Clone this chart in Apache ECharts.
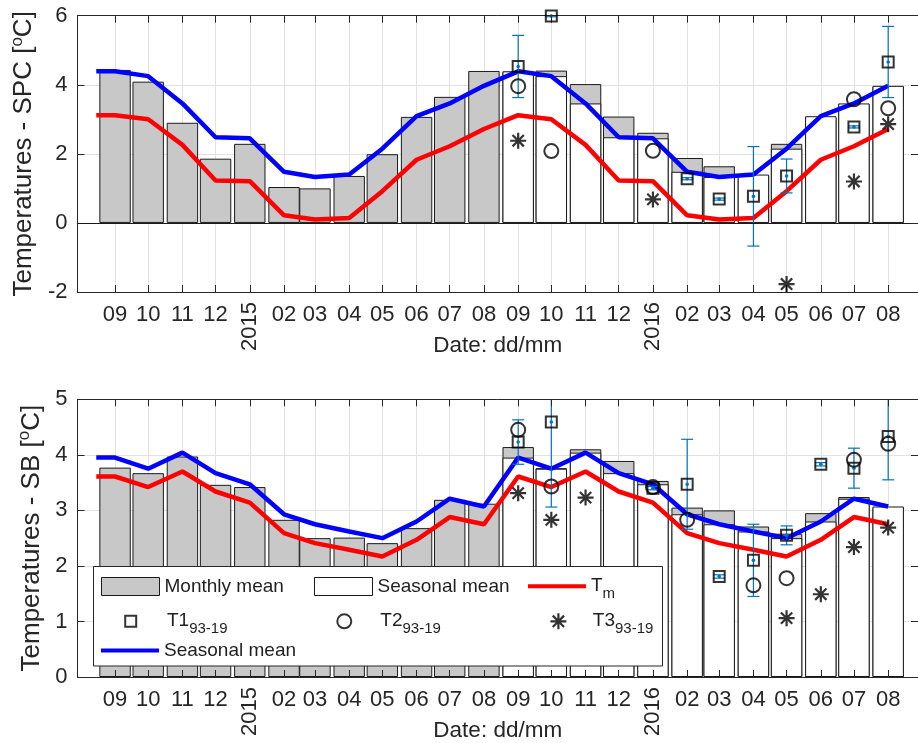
<!DOCTYPE html>
<html>
<head>
<meta charset="utf-8">
<title>Monthly and seasonal temperatures – SPC and SB</title>
<script src="https://cdn.jsdelivr.net/npm/echarts@6/dist/echarts.min.js"></script>
<style>
  html, body { margin: 0; padding: 0; background: #fff; }
  #chart { width: 918px; height: 743px; }
</style>
</head>
<body>
<div id="chart"></div>
<script>
// ---- Dates: one tick per month, Sep 2014 – Aug 2016 ----
const monthStarts = [
  '2014-09-01', '2014-10-01', '2014-11-01', '2014-12-01', '2015-01-01', '2015-02-01',
  '2015-03-01', '2015-04-01', '2015-05-01', '2015-06-01', '2015-07-01', '2015-08-01',
  '2015-09-01', '2015-10-01', '2015-11-01', '2015-12-01', '2016-01-01', '2016-02-01',
  '2016-03-01', '2016-04-01', '2016-05-01', '2016-06-01', '2016-07-01', '2016-08-01'
];
const tickLabels = [
  '09', '10', '11', '12', '2015', '02', '03', '04', '05', '06', '07', '08',
  '09', '10', '11', '12', '2016', '02', '03', '04', '05', '06', '07', '08'
];
const axisStartDate = '2014-07-29';
const axisEndDate = '2016-08-28';
const curveStartDate = '2014-08-15';   // curves begin half a month before the first bar

// ---- SPC (upper panel), °C ----
const spcMonthly = [4.43, 4.09, 2.90, 1.86, 2.29, 1.04, 1.00, 1.36, 1.99, 3.07, 3.65, 4.40,
                    4.38, 4.41, 4.02, 3.08, 2.61, 1.88, 1.64, 1.38, 2.29, 3.05, 3.44, 3.95];
// seasonal cycle Sep..Aug
const spcSeasonal = [4.39, 4.25, 3.46, 2.48, 2.45, 1.48, 1.33, 1.40, 2.15, 3.09, 3.46, 3.97];
const spcTm       = [3.12, 3.00, 2.26, 1.23, 1.21, 0.22, 0.10, 0.14, 0.92, 1.83, 2.22, 2.72];
// sensor readings Sep 2015..Aug 2016 (null = no reading)
const spcT1    = [4.53, 5.99, null, null, null, 1.28, 0.69, 0.77, 1.36, null, 2.78, 4.66];
const spcT1Err = [0.90, 0.02, null, null, null, 0.03, 0.03, 1.44, 0.49, null, 0.03, 1.03];
const spcT2    = [3.96, 2.08, null, null, 2.09, null, null, null, null, null, 3.58, 3.32];
const spcT3    = [2.38, null, null, null, 0.68, null, null, null, -1.77, null, 1.20, 2.86];

// ---- SB (lower panel), °C ----
const sbMonthly = [3.77, 3.67, 3.97, 3.46, 3.42, 2.83, 2.50, 2.51, 2.41, 2.68, 3.19, 3.12,
                   4.14, 3.76, 4.10, 3.89, 3.53, 3.05, 3.00, 2.71, 2.58, 2.95, 3.24, 3.05];
const sbSeasonal = [3.95, 3.75, 4.04, 3.67, 3.47, 2.93, 2.75, 2.62, 2.50, 2.80, 3.21, 3.07];
const sbTm       = [3.61, 3.42, 3.70, 3.34, 3.14, 2.59, 2.41, 2.29, 2.17, 2.47, 2.88, 2.75];
const sbT1    = [4.23, 4.59, null, null, 3.40, 3.47, 1.81, 2.10, 2.55, 3.83, 3.76, 4.33];
const sbT1Err = [0.40, 1.53, null, null, 0.03, 0.81, 0.03, 0.65, 0.17, 0.03, 0.36, 0.78];
const sbT2    = [4.45, 3.43, null, null, 3.42, 2.83, null, 1.65, 1.78, null, 3.91, 4.20];
const sbT3    = [3.31, 2.83, 3.23, null, null, null, null, null, 1.06, 1.49, 2.34, 2.69];

// ---- styling ----
const FONT = "'Liberation Sans', Arial, Helvetica, sans-serif";
const INK = '#262626';
const LEGEND_INK = '#1f1f1f';
const GRID_LINE = '#e2e2e2';
const BLUE = '#0000ff';
const RED = '#ff0000';
const ERR_BLUE = '#0072bd';
const ASTERISK = 'path://M0,-10L0,10M-10,0L10,0M-7.07,-7.07L7.07,7.07M-7.07,7.07L7.07,-7.07';
const SQUARE = 'path://M0,0h10v10h-10z';

// x axis works in days since 1 Sep 2014
const origin = Date.parse('2014-09-01');
const dayOf = s => (Date.parse(s) - origin) / 864e5;
const monthDays = monthStarts.map(dayOf);
const labelOf = {};
monthDays.forEach((d, i) => { labelOf[d] = tickLabels[i]; });
const isYear = t => t.length === 4;
const monthLabelDays = monthDays.filter((d, i) => !isYear(tickLabels[i]));
const yearLabelDays = monthDays.filter((d, i) => isYear(tickLabels[i]));
const secondYearDays = monthDays.slice(12);
const xMin = dayOf(axisStartDate);
const xMax = dayOf(axisEndDate);
const curveStart = dayOf(curveStartDate);

const panels = [
  { site: 'SPC', top: 15.7, height: 276.3, yMin: -2, yMax: 6, yStep: 2, nameGap: 36,
    monthly: spcMonthly, seasonal: spcSeasonal, tm: spcTm,
    t1: spcT1, t1Err: spcT1Err, t2: spcT2, t3: spcT3, zeroLine: true },
  { site: 'SB', top: 399.3, height: 278.4, yMin: 0, yMax: 5, yStep: 1, nameGap: 26,
    monthly: sbMonthly, seasonal: sbSeasonal, tm: sbTm,
    t1: sbT1, t1Err: sbT1Err, t2: sbT2, t3: sbT3, zeroLine: false }
];

const textBase = { color: INK, fontFamily: FONT };

const grid = [], xAxis = [], yAxis = [], series = [];

// seasonal cycle drawn through both years
const cycleCurve = vals => [[curveStart, vals[0]]].concat(monthDays.map((d, i) => [d, vals[i % 12]]));
const pointsOf = vals => secondYearDays.map((d, i) => [d, vals[i]]).filter(p => p[1] !== null);

panels.forEach((p, g) => {
  grid.push({ left: 77.5, right: -1.5, top: p.top, height: p.height, containLabel: false });

  const xi = g * 4, yi = g * 2;
  // month labels + vertical grid
  xAxis.push({
    gridIndex: g, type: 'value', position: 'bottom', min: xMin, max: xMax,
    axisLine: { show: true, onZero: false, lineStyle: { color: INK } },
    axisTick: { show: false, customValues: monthDays },
    axisLabel: { customValues: monthLabelDays, formatter: v => labelOf[v] || '',
                 fontSize: 22, margin: 12, ...textBase },
    splitLine: { show: true, lineStyle: { color: GRID_LINE, width: 1 } },
    name: 'Date: dd/mm', nameLocation: 'middle', nameGap: 42,
    nameTextStyle: { fontSize: 22.5, ...textBase }
  });
  // year labels, upright
  xAxis.push({
    gridIndex: g, type: 'value', position: 'bottom', min: xMin, max: xMax,
    axisLine: { show: false }, axisTick: { show: false }, splitLine: { show: false },
    axisLabel: { customValues: yearLabelDays, formatter: v => labelOf[v] || '',
                 rotate: 90, fontSize: 22, margin: 10, ...textBase }
  });
  // tick marks on top of the bars
  xAxis.push({
    gridIndex: g, type: 'value', position: 'bottom', min: xMin, max: xMax, z: 5,
    axisLine: { show: true, onZero: false, lineStyle: { color: INK } },
    axisTick: { show: true, inside: true, length: 7, customValues: monthDays, lineStyle: { color: INK } },
    axisLabel: { show: false }, splitLine: { show: false }
  });
  xAxis.push({
    gridIndex: g, type: 'value', position: 'top', min: xMin, max: xMax, z: 5,
    axisLine: { show: true, onZero: false, lineStyle: { color: INK } },
    axisTick: { show: true, inside: true, length: 7, customValues: monthDays, lineStyle: { color: INK } },
    axisLabel: { show: false }, splitLine: { show: false }
  });

  yAxis.push({
    gridIndex: g, type: 'value', position: 'left', min: p.yMin, max: p.yMax, interval: p.yStep,
    axisLine: { show: true, onZero: false, lineStyle: { color: INK } },
    axisTick: { show: true, inside: true, length: 7, lineStyle: { color: INK } },
    axisLabel: { fontSize: 22, margin: 10, ...textBase },
    splitLine: { show: true, lineStyle: { color: GRID_LINE, width: 1 } },
    name: 'Temperatures - ' + p.site + ' [{sup|o}C]', nameLocation: 'middle', nameRotate: 90,
    nameGap: p.nameGap,
    nameTextStyle: { fontSize: 26, ...textBase,
      rich: { sup: { fontSize: 17, padding: [0, 0, 14, 0], ...textBase } } }
  });
  yAxis.push({
    gridIndex: g, type: 'value', position: 'right', min: p.yMin, max: p.yMax, interval: p.yStep, z: 5,
    axisLine: { show: true, onZero: false, lineStyle: { color: INK } },
    axisTick: { show: true, inside: true, length: 7, lineStyle: { color: INK } },
    axisLabel: { show: false }, splitLine: { show: false }
  });

  const monthlySeries = {
    name: 'Monthly mean', type: 'bar', xAxisIndex: xi, yAxisIndex: yi,
    barWidth: 31.4, barGap: '-100%',
    itemStyle: { color: '#c8c8c8', borderColor: '#1a1a1a', borderWidth: 1 },
    data: monthDays.map((d, i) => [d, p.monthly[i]])
  };
  if (p.zeroLine) {
    monthlySeries.markLine = {
      silent: true, symbol: 'none', label: { show: false },
      lineStyle: { color: '#1a1a1a', width: 1, type: 'solid' },
      data: [{ yAxis: 0 }]
    };
  }
  series.push(monthlySeries);

  series.push({
    name: 'Seasonal mean', type: 'bar', xAxisIndex: xi, yAxisIndex: yi,
    barWidth: 31.4, barGap: '-100%',
    itemStyle: { color: '#ffffff', borderColor: '#1a1a1a', borderWidth: 1 },
    data: secondYearDays.map((d, i) => [d, p.seasonal[i]])
  });

  series.push({
    name: 'Tm', type: 'line', xAxisIndex: xi, yAxisIndex: yi, z: 3,
    symbol: 'none', lineStyle: { color: RED, width: 4.5 }, itemStyle: { color: RED },
    data: cycleCurve(p.tm)
  });
  series.push({
    name: 'Seasonal cycle', type: 'line', xAxisIndex: xi, yAxisIndex: yi, z: 3,
    symbol: 'none', lineStyle: { color: BLUE, width: 4.5 }, itemStyle: { color: BLUE },
    data: cycleCurve(p.seasonal)
  });

  // T1 spread: vertical bar with caps and a dot at the reading
  const yLo = p.yMin, yHi = p.yMax;
  series.push({
    name: 'T1 spread', type: 'custom', xAxisIndex: xi, yAxisIndex: yi, z: 4,
    data: secondYearDays.map((d, i) => [d, p.t1[i], p.t1Err[i]]).filter(r => r[1] !== null),
    renderItem: (params, api) => {
      const x = api.value(0), y = api.value(1), e = api.value(2);
      const hi = Math.min(y + e, yHi), lo = Math.max(y - e, yLo);
      const c = api.coord([x, y]);
      const pHi = api.coord([x, hi]);
      const pLo = api.coord([x, lo]);
      const st = { stroke: ERR_BLUE, lineWidth: 1.2 };
      const kids = [{ type: 'line', shape: { x1: c[0], y1: pHi[1], x2: c[0], y2: pLo[1] }, style: st }];
      if (y + e <= yHi) kids.push({ type: 'line', shape: { x1: c[0] - 6, y1: pHi[1], x2: c[0] + 6, y2: pHi[1] }, style: st });
      if (y - e >= yLo) kids.push({ type: 'line', shape: { x1: c[0] - 6, y1: pLo[1], x2: c[0] + 6, y2: pLo[1] }, style: st });
      kids.push({ type: 'circle', shape: { cx: c[0], cy: c[1], r: 1.8 }, style: { fill: ERR_BLUE } });
      return { type: 'group', children: kids };
    }
  });

  series.push({
    name: 'T1', type: 'scatter', xAxisIndex: xi, yAxisIndex: yi, z: 5, clip: false,
    symbol: 'rect', symbolSize: 11,
    itemStyle: { color: 'rgba(0,0,0,0)', borderColor: '#000', borderWidth: 2 },
    data: pointsOf(p.t1)
  });
  series.push({
    name: 'T2', type: 'scatter', xAxisIndex: xi, yAxisIndex: yi, z: 5, clip: false,
    symbol: 'circle', symbolSize: 14,
    itemStyle: { color: 'rgba(0,0,0,0)', borderColor: '#000', borderWidth: 2 },
    data: pointsOf(p.t2)
  });
  series.push({
    name: 'T3', type: 'scatter', xAxisIndex: xi, yAxisIndex: yi, z: 5, clip: false,
    symbol: ASTERISK, symbolSize: 16,
    itemStyle: { color: 'rgba(0,0,0,0)', borderColor: '#000', borderWidth: 2.2 },
    data: pointsOf(p.t3)
  });
});

// ---- legend: one component per entry, arranged in a 3-column grid ----
const legendText = {
  'Monthly mean': 'Monthly mean',
  'Seasonal mean': 'Seasonal mean',
  'Seasonal cycle': 'Seasonal mean',
  'Tm': '{a|T}{s|m}',
  'T1': '{a|T1}{s|93-19}',
  'T2': '{a|T2}{s|93-19}',
  'T3': '{a|T3}{s|93-19}'
};
const richWithIndent = indent => ({
  a: { fontSize: 19, padding: [5.7, 0, 0, indent], verticalAlign: 'top', color: LEGEND_INK, fontFamily: FONT },
  s: { fontSize: 15, padding: [16, 0, 0, 0], verticalAlign: 'top', color: LEGEND_INK, fontFamily: FONT }
});
const plainText = { fontSize: 19, lineHeight: 18, color: LEGEND_INK, fontFamily: FONT };
function legendEntry(name, left, top, opts) {
  return Object.assign({
    data: [name], left: left, top: top, orient: 'horizontal', padding: 0,
    itemWidth: 58, itemHeight: 18, selectedMode: false, z: 6,
    formatter: n => legendText[n],
    textStyle: plainText
  }, opts || {});
}
const markerLegendStyle = { color: 'rgba(0,0,0,0)', borderColor: '#000', borderWidth: 2 };
const legend = [
  legendEntry('Monthly mean', 101, 577, { icon: 'rect',
    itemStyle: { color: '#c8c8c8', borderColor: '#1a1a1a', borderWidth: 1 } }),
  legendEntry('Seasonal mean', 314, 577, { icon: 'rect',
    itemStyle: { color: '#ffffff', borderColor: '#1a1a1a', borderWidth: 1 } }),
  legendEntry('Tm', 528, 576.5, { icon: 'rect', itemHeight: 4,
    itemStyle: { color: RED, borderWidth: 0 },
    textStyle: { fontSize: 19, color: LEGEND_INK, fontFamily: FONT, rich: richWithIndent(0) } }),
  legendEntry('T1', 124.2, 611.5, { icon: SQUARE, itemWidth: 11, itemHeight: 11, itemStyle: markerLegendStyle,
    textStyle: { fontSize: 19, color: LEGEND_INK, fontFamily: FONT, rich: richWithIndent(25.8) } }),
  legendEntry('T2', 336.3, 611.5, { icon: 'circle', itemWidth: 14, itemHeight: 14, itemStyle: markerLegendStyle,
    textStyle: { fontSize: 19, color: LEGEND_INK, fontFamily: FONT, rich: richWithIndent(24) } }),
  legendEntry('T3', 549.3, 611.5, { icon: ASTERISK, itemWidth: 16, itemHeight: 16,
    itemStyle: { color: 'rgba(0,0,0,0)', borderColor: '#000', borderWidth: 2.2 },
    textStyle: { fontSize: 19, color: LEGEND_INK, fontFamily: FONT, rich: richWithIndent(21.4) } }),
  legendEntry('Seasonal cycle', 101, 641, { icon: 'rect', itemHeight: 4,
    itemStyle: { color: BLUE, borderWidth: 0 } })
];

const chart = echarts.init(document.getElementById('chart'), null, { renderer: 'canvas' });
chart.setOption({
  animation: false,
  backgroundColor: '#ffffff',
  textStyle: { fontFamily: FONT },
  grid, xAxis, yAxis, series, legend,
  graphic: [{
    type: 'rect', z: 3, silent: true,
    shape: { x: 93.5, y: 566.5, width: 569, height: 99.5 },
    style: { fill: '#ffffff', stroke: INK, lineWidth: 1 }
  }]
});
</script>
</body>
</html>
